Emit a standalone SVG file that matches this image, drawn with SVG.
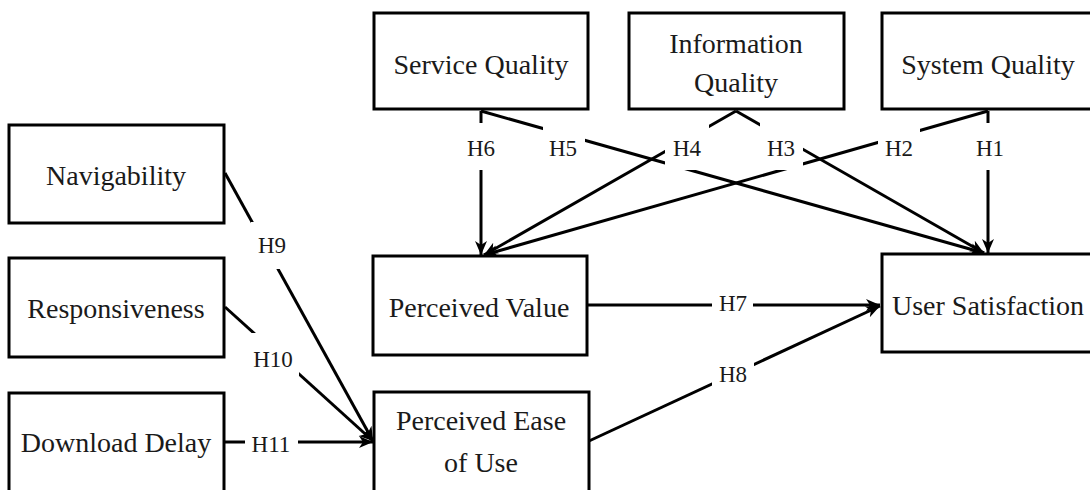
<svg xmlns="http://www.w3.org/2000/svg" width="1090" height="490" viewBox="0 0 1090 490">
<defs>
<marker id="arr" markerUnits="userSpaceOnUse" markerWidth="16" markerHeight="14" refX="14" refY="7" orient="auto">
<path d="M0,1 L14,7 L0,13 L4,7 z" fill="#000"/>
</marker>
<style>
.box{fill:#fff;stroke:#000;stroke-width:3}
.nt{font-family:"Liberation Serif","Times New Roman",serif;font-size:28px;fill:#1a1a1a;text-anchor:middle}
.lt{font-family:"Liberation Serif","Times New Roman",serif;font-size:23px;fill:#1a1a1a;text-anchor:middle}
.ln{stroke:#000;stroke-width:3;fill:none}
.ar{marker-end:url(#arr)}
.lb{fill:#fff;stroke:none}
</style>
</defs>
<rect width="1090" height="490" fill="#fff"/>
<g id="connectors">
<line class="ln ar" x1="481" y1="111" x2="481" y2="255"/>
<line class="ln ar" x1="481" y1="111" x2="984" y2="253"/>
<line class="ln ar" x1="736" y1="111" x2="484" y2="255"/>
<line class="ln ar" x1="736" y1="111" x2="984" y2="253"/>
<line class="ln ar" x1="988" y1="111" x2="484" y2="255"/>
<line class="ln ar" x1="988" y1="111" x2="988" y2="253"/>
<line class="ln ar" x1="588" y1="305" x2="880" y2="305"/>
<line class="ln ar" x1="589" y1="441" x2="880" y2="306"/>
<line class="ln ar" x1="225" y1="173" x2="373" y2="441"/>
<line class="ln ar" x1="225" y1="307" x2="373" y2="441"/>
<line class="ln ar" x1="224" y1="442" x2="373" y2="442"/>
<g id="labels">
<rect class="lb" x="464" y="123" width="34" height="47"/><text class="lt" x="481" y="156">H6</text>
<rect class="lb" x="543" y="123" width="42" height="47"/><text class="lt" x="563" y="156">H5</text>
<rect class="lb" x="665" y="123" width="44" height="47"/><text class="lt" x="687" y="156">H4</text>
<rect class="lb" x="760" y="123" width="43" height="47"/><text class="lt" x="781" y="156">H3</text>
<rect class="lb" x="878" y="123" width="42" height="47"/><text class="lt" x="899" y="156">H2</text>
<rect class="lb" x="972" y="123" width="34" height="47"/><text class="lt" x="990" y="156">H1</text>
<rect class="lb" x="712" y="285" width="41" height="40"/><text class="lt" x="733" y="311">H7</text>
<rect class="lb" x="712" y="352" width="42" height="45"/><text class="lt" x="733" y="382">H8</text>
<rect class="lb" x="251" y="222" width="43" height="47"/><text class="lt" x="272" y="253">H9</text>
<rect class="lb" x="247" y="333" width="52" height="47"/><text class="lt" x="273" y="367">H10</text>
<rect class="lb" x="245" y="420" width="53" height="45"/><text class="lt" x="271" y="452">H11</text>
</g>
</g>
<g id="service-quality"><rect class="box" x="374" y="13" width="214" height="96"/><text class="nt" x="481" y="74">Service Quality</text></g>
<g id="information-quality"><rect class="box" x="629" y="13" width="215" height="96"/><text class="nt" x="736" y="53">Information</text><text class="nt" x="736" y="92">Quality</text></g>
<g id="system-quality"><rect class="box" x="882" y="13" width="220" height="96"/><text class="nt" x="988" y="74">System Quality</text></g>
<g id="navigability"><rect class="box" x="9" y="125" width="215" height="98"/><text class="nt" x="116" y="185">Navigability</text></g>
<g id="responsiveness"><rect class="box" x="9" y="258" width="215" height="99"/><text class="nt" x="116" y="318">Responsiveness</text></g>
<g id="download-delay"><rect class="box" x="9" y="393" width="215" height="110"/><text class="nt" x="116" y="452">Download Delay</text></g>
<g id="perceived-value"><rect class="box" x="373" y="256" width="214" height="99"/><text class="nt" x="479" y="317">Perceived Value</text></g>
<g id="perceived-ease-of-use"><rect class="box" x="374" y="392" width="215" height="110"/><text class="nt" x="481" y="430">Perceived Ease</text><text class="nt" x="481" y="472">of Use</text></g>
<g id="user-satisfaction"><rect class="box" x="882" y="254" width="220" height="98"/><text class="nt" x="988" y="315">User Satisfaction</text></g>
</svg>
